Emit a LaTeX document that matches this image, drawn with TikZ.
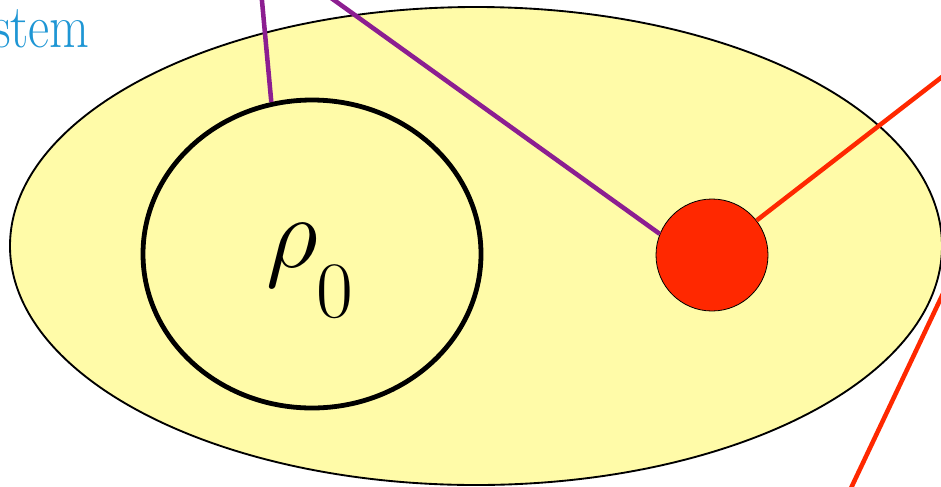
\RequirePackage{fix-cm}
\documentclass[tikz,border=0pt]{standalone}
\usetikzlibrary{shapes.geometric}
\DeclareMathSizes{76.5}{76.5}{60}{50}
\definecolor{bgyellow}{RGB}{255,251,168}
\definecolor{sysblue}{RGB}{30,150,212}
\definecolor{linkpurple}{RGB}{140,30,145}
\definecolor{dotred}{RGB}{255,40,0}
\tikzset{
  region/.style={ellipse,draw=black,line width=1.4pt,fill=bgyellow,inner sep=0pt},
  subregion/.style={ellipse,draw=black,line width=3.6pt,inner sep=0pt},
  particle/.style={circle,draw=black,line width=0.6pt,fill=dotred,inner sep=0pt,minimum size=84pt},
  purplelink/.style={draw=linkpurple,line width=3.4pt},
  redlink/.style={draw=dotred,line width=3.4pt},
  symb/.style={inner sep=0pt},
}
\begin{document}
\begin{tikzpicture}[x=0.75pt,y=-0.75pt]
\useasboundingbox (0,0) rectangle (941,486);
\clip (0,0) rectangle (941,486);
\coordinate (redfar) at (1000,32);
\coordinate (redtop) at (966,245);
\coordinate (redbot) at (843,505);
\draw[redlink] (redtop) -- (redbot);
\node[region,minimum width=699pt,minimum height=358.5pt] (sys) at (476,246) {};
\node[subregion,minimum width=253.5pt,minimum height=231pt] (sub) at (312,254) {};
\node[particle] (dot) at (712,255) {};
\node[symb,anchor=base west] (rho) at (266,267) {\fontsize{76.5}{80}\selectfont$\rho$};
\node[symb,anchor=base west] (rhosub) at (316,317) {\fontsize{60}{64}\selectfont 0};
\node[text=sysblue,anchor=base east,symb] (label) at (90,47) {\scalebox{0.88}[1.05]{\fontsize{44}{48}\selectfont System}};
\coordinate (ptop1) at (261,-10);
\coordinate (ptop2) at (320,-10);
\draw[purplelink] (ptop1) -- (sub.105);
\draw[purplelink] (ptop2) -- (dot.158);
\draw[redlink] (dot) -- (redfar);
\end{tikzpicture}
\end{document}
